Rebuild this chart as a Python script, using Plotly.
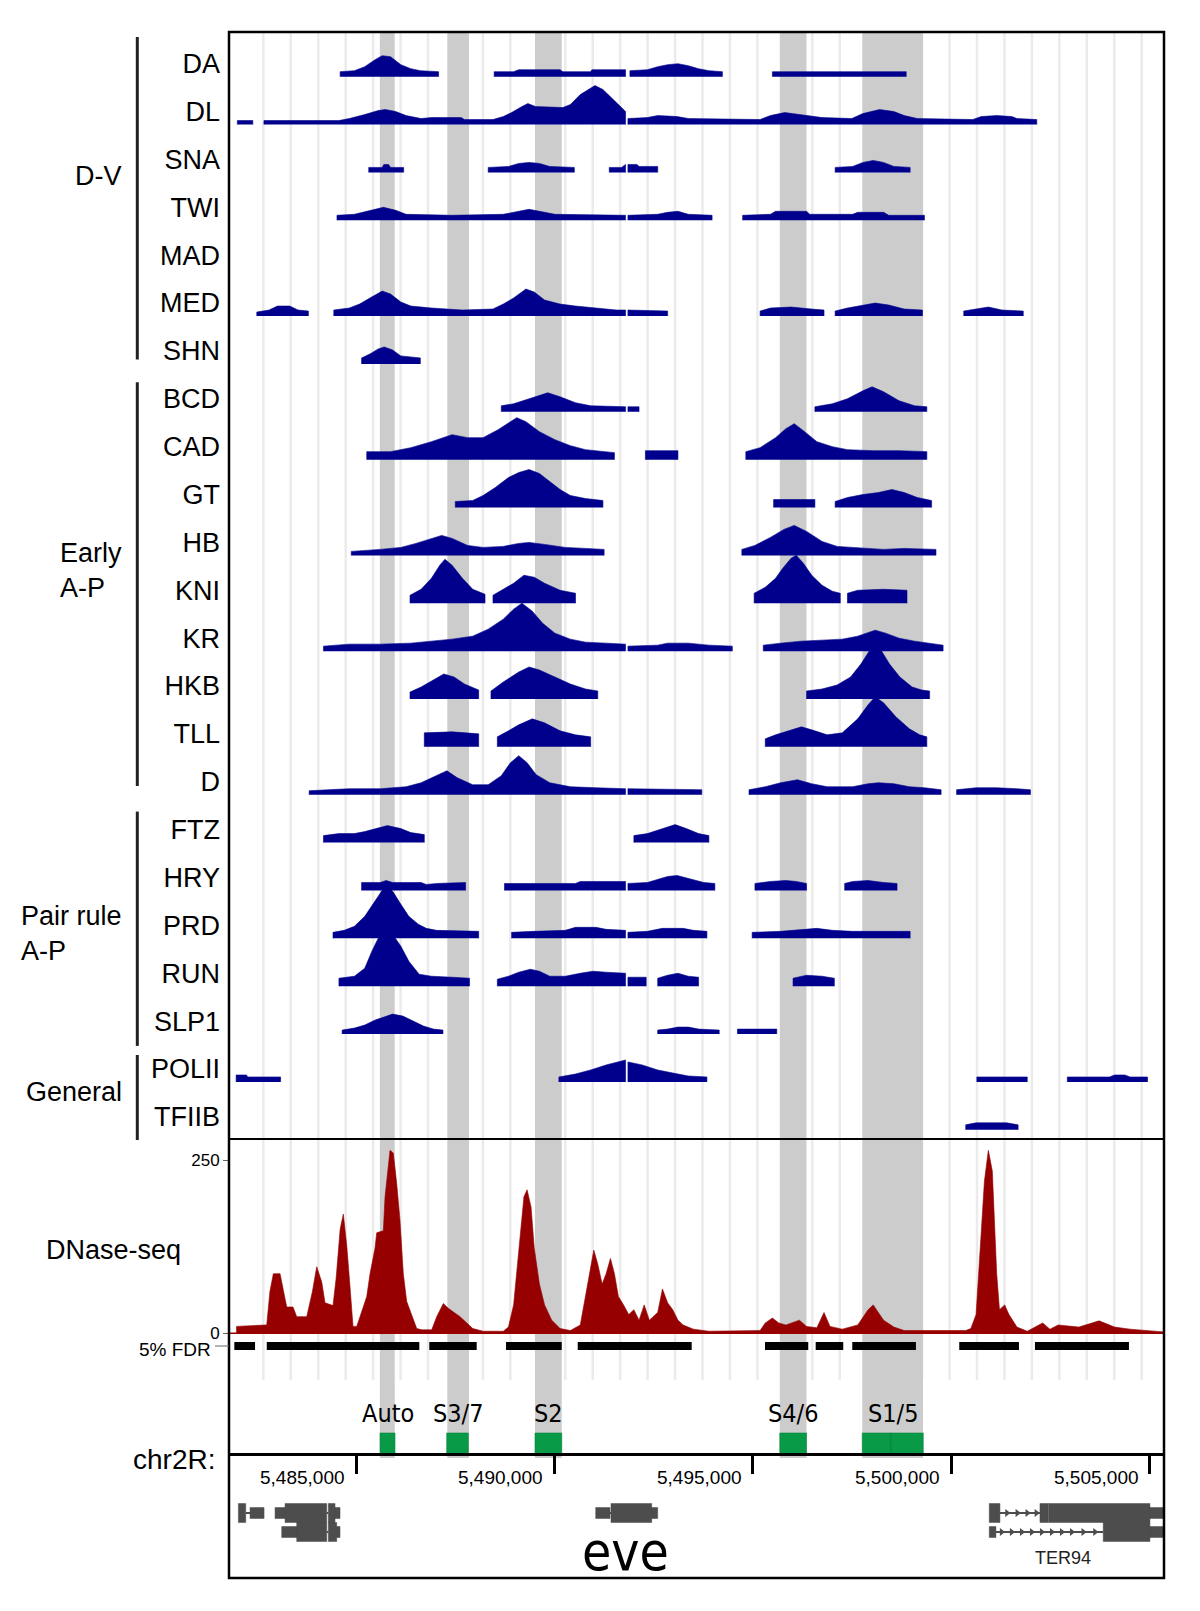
import plotly.graph_objects as go

# ------------------------------------------------------------------ data
X_RANGE = [5481800, 5505355]
AXIS_TICKS = [5485000, 5490000, 5495000, 5500000, 5505000]
AXIS_TICK_TEXT = ["5,485,000", "5,490,000", "5,495,000", "5,500,000", "5,505,000"]

# ChIP tracks: list of segments, each segment = [(position bp, signal), ...]
DA = [
    [(5484600, 5), (5484960, 6), (5485220, 10), (5485480, 17), (5485660, 21), (5485870, 20), (5486130, 12), (5486380, 8), (5486620, 6), (5487080, 5)],
    [(5488480, 5), (5488970, 5), (5489100, 7), (5490140, 7), (5490210, 5), (5490910, 5), (5490940, 7), (5491790, 7)],
    [(5491900, 6), (5492340, 7), (5492600, 10), (5492850, 12), (5493110, 13), (5493370, 11), (5493630, 8), (5493890, 6), (5494150, 5), (5494230, 5)],
    [(5495490, 5), (5498860, 5)],
]
DL = [
    [(5482010, 4), (5482400, 4)],
    [(5482680, 4), (5484570, 4), (5484830, 6), (5485220, 10), (5485560, 14), (5485740, 15), (5486000, 13), (5486260, 9), (5486640, 6), (5486900, 7), (5487650, 7), (5487730, 5), (5488450, 5), (5488710, 8), (5488920, 12), (5489180, 18), (5489330, 21), (5489520, 18), (5490210, 17), (5490400, 20), (5490650, 30), (5491020, 39), (5491220, 35), (5491560, 22), (5491790, 13)],
    [(5491850, 6), (5492340, 7), (5492600, 9), (5493090, 8), (5493370, 6), (5495180, 5), (5495440, 9), (5495800, 12), (5496220, 10), (5496740, 7), (5497490, 6), (5497770, 11), (5498190, 15), (5498550, 13), (5498810, 9), (5499140, 6), (5500540, 5), (5500750, 8), (5501140, 9), (5501520, 8), (5501650, 6), (5502150, 5)],
]
SNA = [
    [(5485320, 5), (5485660, 5), (5485700, 8), (5485820, 8), (5485870, 5), (5486200, 5)],
    [(5488330, 5), (5488840, 6), (5489100, 9), (5489360, 10), (5489620, 9), (5489880, 6), (5490500, 5)],
    [(5491380, 5), (5491690, 5), (5491770, 8), (5491790, 8)],
    [(5491850, 8), (5492080, 8), (5492130, 6), (5492600, 6)],
    [(5497070, 5), (5497510, 6), (5497770, 10), (5498030, 12), (5498290, 10), (5498550, 6), (5498960, 5)],
]
TWI = [
    [(5484520, 5), (5484960, 6), (5485350, 10), (5485690, 13), (5486000, 10), (5486260, 6), (5487420, 5), (5488710, 6), (5489100, 9), (5489360, 11), (5489620, 9), (5490010, 6), (5491790, 5)],
    [(5491850, 5), (5492600, 6), (5492850, 8), (5493110, 9), (5493370, 6), (5493970, 5)],
    [(5494740, 5), (5495440, 6), (5495570, 9), (5496350, 9), (5496430, 6), (5497510, 6), (5497640, 8), (5498290, 8), (5498420, 5), (5499320, 5)],
]
MAD = []
MED = [
    [(5482500, 4), (5482810, 6), (5483020, 10), (5483330, 10), (5483540, 6), (5483800, 5)],
    [(5484440, 6), (5484830, 8), (5485090, 12), (5485350, 18), (5485660, 25), (5485870, 22), (5486130, 14), (5486380, 10), (5486900, 8), (5487680, 6), (5488450, 7), (5488710, 12), (5488970, 18), (5489280, 27), (5489490, 24), (5489750, 16), (5490140, 12), (5490530, 10), (5491040, 8), (5491560, 6), (5491790, 6)],
    [(5491850, 6), (5492850, 5)],
    [(5495180, 5), (5495440, 8), (5495960, 9), (5496480, 7), (5496790, 6)],
    [(5497070, 5), (5497380, 8), (5497770, 11), (5498080, 13), (5498420, 11), (5498810, 7), (5499270, 6)],
    [(5500310, 5), (5500620, 7), (5500930, 9), (5501270, 6), (5501810, 5)],
]
SHN = [
    [(5485140, 6), (5485350, 10), (5485560, 15), (5485710, 17), (5485920, 14), (5486130, 8), (5486380, 7), (5486620, 6)],
]
BCD = [
    [(5488660, 6), (5488970, 8), (5489360, 13), (5489620, 17), (5489830, 19), (5490140, 15), (5490530, 9), (5490910, 6), (5491790, 5)],
    [(5491850, 5), (5492130, 5)],
    [(5496560, 5), (5497000, 8), (5497380, 13), (5497770, 21), (5498000, 25), (5498290, 20), (5498680, 11), (5499070, 6), (5499380, 5)],
]
CAD = [
    [(5485270, 8), (5485870, 8), (5486380, 12), (5486900, 18), (5487420, 25), (5487810, 22), (5488200, 22), (5488580, 30), (5488840, 37), (5489050, 42), (5489280, 38), (5489620, 28), (5490010, 20), (5490400, 14), (5490780, 10), (5491170, 8), (5491510, 7)],
    [(5492290, 9), (5493110, 9)],
    [(5494820, 8), (5495180, 12), (5495570, 22), (5495830, 31), (5496040, 36), (5496270, 29), (5496610, 18), (5497000, 13), (5497380, 10), (5498030, 9), (5498680, 9), (5499380, 8)],
]
GT = [
    [(5487500, 6), (5487940, 7), (5488200, 12), (5488510, 20), (5488840, 30), (5489100, 35), (5489360, 38), (5489620, 34), (5489880, 26), (5490140, 18), (5490400, 12), (5490780, 9), (5491220, 7)],
    [(5495520, 8), (5496560, 8)],
    [(5497070, 6), (5497380, 10), (5497770, 13), (5498160, 15), (5498500, 18), (5498810, 15), (5499140, 10), (5499500, 7)],
]
HB = [
    [(5484880, 4), (5485610, 6), (5486130, 8), (5486510, 12), (5486900, 17), (5487160, 20), (5487420, 17), (5487810, 10), (5488200, 8), (5488710, 9), (5489100, 12), (5489360, 13), (5489750, 11), (5490270, 8), (5490780, 7), (5491250, 6)],
    [(5494720, 6), (5495050, 10), (5495440, 18), (5495780, 26), (5496040, 30), (5496350, 24), (5496740, 14), (5497120, 9), (5497770, 7), (5498290, 6), (5498810, 7), (5499610, 6)],
]
KNI = [
    [(5486360, 8), (5486640, 14), (5486900, 25), (5487110, 38), (5487240, 44), (5487420, 38), (5487680, 25), (5487940, 14), (5488250, 9)],
    [(5488450, 8), (5488710, 14), (5488970, 20), (5489230, 28), (5489490, 26), (5489750, 20), (5490140, 13), (5490530, 10)],
    [(5495030, 10), (5495310, 16), (5495570, 25), (5495750, 35), (5495960, 45), (5496090, 48), (5496270, 40), (5496480, 28), (5496740, 18), (5497000, 12), (5497200, 10)],
    [(5497380, 10), (5497640, 13), (5498290, 14), (5498880, 13)],
]
KR = [
    [(5484180, 5), (5484830, 7), (5485610, 7), (5486380, 8), (5486900, 10), (5487420, 12), (5487940, 15), (5488330, 22), (5488710, 32), (5488970, 42), (5489180, 48), (5489440, 40), (5489700, 28), (5490010, 18), (5490400, 12), (5490780, 9), (5491300, 8), (5491790, 7)],
    [(5491850, 5), (5492600, 6), (5492850, 8), (5493370, 8), (5493890, 6), (5494480, 5)],
    [(5495260, 6), (5495700, 8), (5496220, 10), (5496740, 11), (5497250, 12), (5497640, 15), (5497900, 19), (5498080, 21), (5498340, 18), (5498680, 13), (5499070, 10), (5499450, 8), (5499790, 6)],
]
HKB = [
    [(5486360, 7), (5486640, 12), (5486900, 18), (5487210, 25), (5487470, 22), (5487730, 15), (5488090, 9)],
    [(5488400, 8), (5488710, 17), (5489100, 27), (5489360, 32), (5489620, 29), (5490010, 22), (5490400, 15), (5490780, 10), (5491090, 8)],
    [(5496350, 8), (5496740, 10), (5497120, 14), (5497460, 22), (5497720, 35), (5497930, 48), (5498080, 58), (5498240, 48), (5498440, 35), (5498700, 22), (5499010, 12), (5499250, 9), (5499450, 8)],
]
TLL = [
    [(5486720, 14), (5487420, 15), (5488090, 13)],
    [(5488560, 10), (5488840, 16), (5489100, 22), (5489440, 28), (5489750, 24), (5490140, 16), (5490530, 12), (5490910, 10)],
    [(5495310, 8), (5495570, 12), (5495960, 17), (5496220, 20), (5496480, 17), (5496870, 12), (5497250, 14), (5497640, 28), (5497900, 42), (5498080, 50), (5498290, 44), (5498600, 30), (5498940, 18), (5499200, 12), (5499380, 10)],
]
D = [
    [(5483820, 4), (5484310, 5), (5484830, 6), (5485610, 6), (5486260, 8), (5486640, 12), (5487030, 19), (5487290, 24), (5487550, 17), (5487940, 10), (5488330, 10), (5488660, 19), (5488890, 32), (5489100, 39), (5489310, 32), (5489540, 20), (5489880, 12), (5490400, 8), (5491040, 7), (5491790, 6)],
    [(5491850, 6), (5493710, 5)],
    [(5494900, 5), (5495310, 8), (5495700, 12), (5496120, 15), (5496480, 11), (5496870, 8), (5497510, 8), (5497900, 11), (5498160, 12), (5498550, 11), (5498940, 8), (5499320, 7), (5499740, 5)],
    [(5500130, 5), (5500620, 7), (5501140, 7), (5501650, 6), (5501990, 5)],
]
FTZ = [
    [(5484180, 7), (5484570, 9), (5484960, 9), (5485220, 11), (5485480, 14), (5485790, 17), (5486130, 14), (5486380, 10), (5486720, 8)],
    [(5492000, 7), (5492340, 9), (5492720, 14), (5493040, 18), (5493320, 14), (5493630, 9), (5493890, 7)],
]
HRY = [
    [(5485140, 8), (5485610, 8), (5485760, 10), (5485920, 8), (5486640, 8), (5486770, 6), (5487030, 7), (5487760, 8)],
    [(5488740, 7), (5490530, 7), (5490650, 9), (5491790, 9)],
    [(5491850, 7), (5492340, 8), (5492600, 11), (5492850, 14), (5493090, 15), (5493370, 12), (5493760, 8), (5494040, 7)],
    [(5495050, 7), (5495440, 9), (5495830, 10), (5496090, 9), (5496350, 7)],
    [(5497310, 7), (5497510, 9), (5497900, 10), (5498290, 8), (5498630, 7)],
]
PRD = [
    [(5484420, 6), (5484700, 8), (5484960, 12), (5485220, 22), (5485480, 38), (5485660, 48), (5485790, 52), (5485940, 46), (5486130, 34), (5486330, 22), (5486570, 14), (5486770, 10), (5487030, 8), (5488090, 7)],
    [(5488920, 6), (5489490, 7), (5490270, 8), (5490530, 11), (5491040, 11), (5491300, 9), (5491790, 8)],
    [(5491850, 6), (5492340, 7), (5492720, 10), (5493240, 10), (5493500, 8), (5493840, 7)],
    [(5494980, 6), (5495700, 7), (5496220, 9), (5496610, 10), (5497000, 8), (5497510, 7), (5498960, 7)],
]
RUN = [
    [(5484570, 8), (5484960, 10), (5485220, 18), (5485400, 35), (5485560, 48), (5485710, 55), (5485920, 52), (5486130, 40), (5486330, 25), (5486590, 12), (5486900, 10), (5487420, 9), (5487860, 8)],
    [(5488560, 7), (5488840, 10), (5489100, 14), (5489390, 17), (5489620, 15), (5489880, 10), (5490270, 10), (5490650, 13), (5490970, 15), (5491300, 14), (5491790, 13)],
    [(5491850, 9), (5492310, 9)],
    [(5492600, 8), (5492850, 11), (5493110, 13), (5493370, 10), (5493630, 9)],
    [(5496010, 8), (5496350, 11), (5496740, 10), (5497050, 8)],
]
SLP1 = [
    [(5484650, 4), (5484960, 6), (5485220, 9), (5485480, 14), (5485740, 18), (5485920, 20), (5486180, 18), (5486440, 13), (5486700, 8), (5486950, 5), (5487190, 4)],
    [(5492600, 4), (5492850, 5), (5493110, 7), (5493370, 7), (5493630, 5), (5494150, 4)],
    [(5494610, 5), (5495600, 5)],
]
POLII = [
    [(5481980, 7), (5482240, 7), (5482270, 5), (5483100, 5)],
    [(5490110, 5), (5490530, 8), (5490910, 12), (5491300, 17), (5491560, 20), (5491770, 22), (5491790, 22)],
    [(5491850, 20), (5492210, 17), (5492600, 12), (5492980, 9), (5493370, 6), (5493840, 5)],
    [(5500640, 5), (5501910, 5)],
    [(5502920, 5), (5503980, 5), (5504110, 7), (5504370, 7), (5504500, 5), (5504940, 5)],
]
TFIIB = [
    [(5500360, 5), (5500620, 7), (5501390, 7), (5501680, 5)],
]

TRACK_NAMES = ["DA", "DL", "SNA", "TWI", "MAD", "MED", "SHN",
               "BCD", "CAD", "GT", "HB", "KNI", "KR", "HKB", "TLL", "D",
               "FTZ", "HRY", "PRD", "RUN", "SLP1", "POLII", "TFIIB"]
TRACKS = [DA, DL, SNA, TWI, MAD, MED, SHN, BCD, CAD, GT, HB, KNI, KR, HKB,
          TLL, D, FTZ, HRY, PRD, RUN, SLP1, POLII, TFIIB]

GROUP_LABELS = ["D-V", "Early<br>A-P", "Pair rule<br>A-P", "General"]

# DNase-seq signal
DNASE_POS = [5481990, 5482700, 5482750, 5482830, 5482917, 5483086, 5483169, 5483254, 5483413, 5483506,
             5483758, 5483900, 5484010, 5484136, 5484219, 5484420, 5484500, 5484600, 5484680, 5484766,
             5484849, 5484924, 5485018, 5485101, 5485270, 5485353, 5485479, 5485521, 5485688, 5485731,
             5485856, 5485940, 5486025, 5486108, 5486191, 5486277, 5486403, 5486529, 5486655, 5486907,
             5487033, 5487199, 5487325, 5487620, 5487940, 5488200, 5488710, 5488840, 5488970, 5489100,
             5489230, 5489310, 5489410, 5489490, 5489620, 5489750, 5489930, 5490140, 5490400, 5490650,
             5490840, 5490990, 5491090, 5491200, 5491300, 5491410, 5491510, 5491610, 5491740, 5491870,
             5492000, 5492130, 5492260, 5492390, 5492600, 5492720, 5492850, 5492980, 5493110, 5493240,
             5493500, 5493890, 5495180, 5495310, 5495490, 5495650, 5495830, 5496170, 5496350, 5496610,
             5496790, 5496940, 5497250, 5497640, 5497900, 5498030, 5498290, 5498550, 5498810, 5500360,
             5500490, 5500620, 5500750, 5500830, 5500930, 5501030, 5501140, 5501210, 5501340, 5501450,
             5501650, 5501910, 5502300, 5502480, 5502690, 5503210, 5503720, 5504110, 5504500, 5505020,
             5505355]
DNASE_VAL = [10, 12, 12, 60, 86, 86, 60, 38, 38, 24,
             24, 60, 96, 74, 44, 40, 80, 150, 172, 127,
             67, 10, 10, 24, 53, 86, 123, 145, 148, 197,
             264, 260, 216, 163, 86, 46, 26, 7, 5, 5,
             24, 43, 36, 24, 7, 3, 3, 9, 41, 116,
             197, 207, 182, 123, 71, 41, 19, 7, 4, 12,
             71, 120, 100, 71, 86, 108, 86, 53, 41, 27,
             34, 19, 41, 19, 30, 64, 44, 34, 19, 12,
             6, 3, 4, 15, 22, 15, 12, 19, 10, 8,
             30, 10, 6, 12, 34, 41, 19, 9, 4, 4,
             7, 27, 145, 219, 264, 234, 86, 34, 41, 27,
             9, 3, 15, 6, 12, 9, 18, 9, 6, 3,
             2]
DNASE_TICKS = [250, 0]
DNASE_TICK_TEXT = ["250", "0"]
FDR_LEVEL = -18.3
FDR_LABEL = "5% FDR"

FDR_START = [5481934, 5482751, 5486846, 5488779, 5490585, 5495303, 5496580, 5497502, 5500197, 5502104]
FDR_END = [5482456, 5486595, 5488040, 5490182, 5493456, 5496393, 5497275, 5499106, 5501701, 5504472]

# enhancers (S1/5 is made of two adjacent fragments)
ENH_NAMES = ["Auto", "S3/7", "S2", "S4/6", "S1/5"]
ENH_START = [5485605, 5487285, 5489509, 5495676, 5497754]
ENH_END = [5485982, 5487829, 5490182, 5496348, 5499290]
ENH_FRAG_START = [5485605, 5487285, 5489509, 5495676, 5497754, 5498469]
ENH_FRAG_END = [5485982, 5487829, 5490182, 5496348, 5498469, 5499290]

BAND_START = [5485600, 5487300, 5489509, 5495676, 5497754]
BAND_END = [5485975, 5487846, 5490182, 5496348, 5499283]

# genes: exon blocks
EXON_START = [5482036, 5482330, 5482960, 5483212, 5484302, 5484471, 5483128, 5483506, 5484302, 5484514,
              5491038, 5491423, 5492449, 5500953, 5502230, 5502450, 5505001, 5500953, 5503824, 5505001]
EXON_END = [5482222, 5482683, 5483212, 5484262, 5484471, 5484597, 5483506, 5484262, 5484514, 5484597,
            5491398, 5492449, 5492600, 5501222, 5502439, 5505001, 5505429, 5501121, 5505001, 5505429]
EXON_LANE = [0, 0, 0, 0, 0, 0, 1, 1, 1, 1,
             0, 0, 0, 0, 0, 0, 0, 1, 1, 1]
EXON_THICK = [1, 0, 0, 1, 1, 0, 0, 1, 1, 0,
              0, 1, 0, 1, 1, 1, 0, 0, 1, 0]
INTRON_START = [5482222, 5484262, 5484262, 5491398, 5501222, 5501121]
INTRON_END = [5482330, 5484302, 5484302, 5491423, 5502230, 5503824]
INTRON_LANE = [0, 0, 1, 0, 0, 1]
ARROW_POS = [5501400, 5501660, 5501910, 5502140,
             5501265, 5501517, 5501769, 5502021, 5502273, 5502525, 5502777, 5503029, 5503321, 5503616]
ARROW_LANE = [0, 0, 0, 0,
              1, 1, 1, 1, 1, 1, 1, 1, 1, 1]
GENE_NAMES = ["eve", "TER94"]
GENE_LABEL_POS = [5491801, 5502809]

# ------------------------------------------------------------------ style / layout helpers
BODY = 8                              # default page margin around the plot div
BOX_L, BOX_T, BOX_W, BOX_H = 229, 32, 935, 1546   # frame in page pixels
W, H = 1200 - 2 * BODY, 1611 - 2 * BODY
ML, MT = BOX_L - BODY, BOX_T - BODY
MR, MB = W - ML - BOX_W, H - MT - BOX_H


def PX(px):
    return (px - BOX_L) / BOX_W


def PY(py):
    return (BOX_T + BOX_H - py) / BOX_H


NAVY = "#00008C"
RED = "#960000"
GREEN = "#089A47"
GENE = "#4D4D4D"
SANS = "Liberation Sans, Arial, Helvetica, sans-serif"
NARROW = "Liberation Sans Narrow, Arial Narrow, DejaVu Sans Condensed, sans-serif"

ROW_PX = 47.87
BASE_OFF = 13 / ROW_PX
Y_TOP, Y_BOT = 0.662, -22.463
Y2_RANGE = [-38.5, 280.3]

fig = go.Figure()

# ---- TF tracks
for i, segs in enumerate(TRACKS):
    if not segs:
        continue
    base = -i - BASE_OFF
    xs, ys = [], []
    for seg in segs:
        xs += [seg[0][0]] + [p[0] for p in seg] + [seg[-1][0], None]
        ys += [base] + [base + p[1] / ROW_PX for p in seg] + [base, None]
    fig.add_trace(go.Scatter(x=xs, y=ys, mode="lines", fill="toself", fillcolor=NAVY,
                             line=dict(color=NAVY, width=0.6), hoverinfo="skip",
                             xaxis="x", yaxis="y"))

# ---- DNase
fig.add_trace(go.Scatter(x=[DNASE_POS[0]] + DNASE_POS + [DNASE_POS[-1]],
                         y=[0] + DNASE_VAL + [0], mode="lines", fill="toself",
                         fillcolor=RED, line=dict(color=RED, width=0.6),
                         hoverinfo="skip", xaxis="x", yaxis="y2"))
fig.add_trace(go.Scatter(x=X_RANGE, y=[0, 0], mode="lines", line=dict(color=RED, width=1.5),
                         hoverinfo="skip", xaxis="x", yaxis="y2"))
fx, fy = [], []
for s, e in zip(FDR_START, FDR_END):
    fx += [s, e, None]
    fy += [FDR_LEVEL, FDR_LEVEL, None]
fig.add_trace(go.Scatter(x=fx, y=fy, mode="lines", line=dict(color="black", width=8),
                         hoverinfo="skip", xaxis="x", yaxis="y2"))

# ---- enhancers
ex, ey = [], []
for s, e in zip(ENH_FRAG_START, ENH_FRAG_END):
    ex += [s, e, e, s, s, None]
    ey += [1, 1, 23, 23, 1, None]
fig.add_trace(go.Scatter(x=ex, y=ey, mode="lines", fill="toself", fillcolor=GREEN,
                         line=dict(color="#07833C", width=0.6), hoverinfo="skip",
                         xaxis="x", yaxis="y3"))

# ---- genes
LANE_Y = [65, 46]
HALF = {1: 9.5, 0: 5.5}
gx, gy = [], []
for s, e, l, t in zip(EXON_START, EXON_END, EXON_LANE, EXON_THICK):
    c, h = LANE_Y[l], HALF[t]
    gx += [s, e, e, s, s, None]
    gy += [c - h, c - h, c + h, c + h, c - h, None]
fig.add_trace(go.Scatter(x=gx, y=gy, mode="lines", fill="toself", fillcolor=GENE,
                         line=dict(color=GENE, width=0.5), hoverinfo="skip",
                         xaxis="x", yaxis="y4"))
ix, iy = [], []
for s, e, l in zip(INTRON_START, INTRON_END, INTRON_LANE):
    ix += [s, e, None]
    iy += [LANE_Y[l], LANE_Y[l], None]
fig.add_trace(go.Scatter(x=ix, y=iy, mode="lines", line=dict(color=GENE, width=2),
                         hoverinfo="skip", xaxis="x", yaxis="y4"))
fig.add_trace(go.Scatter(x=ARROW_POS, y=[LANE_Y[l] for l in ARROW_LANE], mode="markers",
                         marker=dict(symbol="triangle-right", size=7, color=GENE),
                         hoverinfo="skip", xaxis="x", yaxis="y4"))

# ------------------------------------------------------------------ shapes
shapes = []
g = 5482665
while g < X_RANGE[1]:
    shapes.append(dict(type="line", xref="x", yref="paper", x0=g, x1=g, y0=PY(1380), y1=1,
                       line=dict(color="#EBEBEB", width=2.5), layer="below"))
    g += 691.5
for s, e in zip(BAND_START, BAND_END):
    shapes.append(dict(type="rect", xref="x", yref="paper", x0=s, x1=e, y0=PY(1458), y1=1,
                       fillcolor="#CCCCCC", line=dict(width=0), layer="below"))
shapes.append(dict(type="rect", xref="paper", yref="paper", x0=0, x1=1, y0=0, y1=1,
                   line=dict(color="black", width=2.5)))
shapes.append(dict(type="line", xref="paper", yref="paper", x0=0, x1=1, y0=PY(1139), y1=PY(1139),
                   line=dict(color="black", width=2)))
BRACKETS = [(37, 359.6), (382.2, 786), (811.6, 1045.9), (1055, 1140)]
for a, b in BRACKETS:
    shapes.append(dict(type="line", xref="paper", yref="paper", x0=PX(137.3), x1=PX(137.3),
                       y0=PY(a), y1=PY(b), line=dict(color="#222222", width=3)))
# longer tick for the FDR row
shapes.append(dict(type="line", xref="paper", yref="y2", x0=PX(215), x1=PX(229),
                   y0=FDR_LEVEL, y1=FDR_LEVEL, line=dict(color="#666666", width=1)))

# ------------------------------------------------------------------ annotations
ann = []
GROUP_Y = [175.7, 570.2, 933.9, 1092]
for lab, yy in zip(GROUP_LABELS, GROUP_Y):
    ann.append(dict(text=lab, xref="paper", yref="paper", x=PX(124), y=PY(yy), xanchor="right",
                    yanchor="middle", align="left", showarrow=False,
                    font=dict(family=SANS, size=27, color="black")))
ann.append(dict(text="DNase-seq", xref="paper", yref="paper", x=PX(183), y=PY(1250),
                xanchor="right", yanchor="middle", showarrow=False,
                font=dict(family=SANS, size=27, color="black")))
ann.append(dict(text="chr2R:", xref="paper", yref="paper", x=PX(217), y=PY(1459),
                xanchor="right", yanchor="middle", showarrow=False,
                font=dict(family=SANS, size=28, color="black")))
ann.append(dict(text=FDR_LABEL, xref="paper", yref="y2", x=PX(213), y=FDR_LEVEL,
                xanchor="right", yanchor="middle", yshift=-3, showarrow=False,
                font=dict(family=SANS, size=19, color="black")))
for t, txt in zip(AXIS_TICKS, AXIS_TICK_TEXT):
    ann.append(dict(text=txt, xref="x", yref="paper", x=t, y=PY(1477), xanchor="right",
                    yanchor="middle", xshift=-9, showarrow=False,
                    font=dict(family=SANS, size=19, color="black")))
for n, s, e in zip(ENH_NAMES, ENH_START, ENH_END):
    ann.append(dict(text=n, xref="x", yref="y3", x=(s + e) / 2, y=43, xanchor="center",
                    yanchor="middle", showarrow=False,
                    font=dict(family=NARROW, size=25, color="black")))
ann.append(dict(text=GENE_NAMES[0], xref="x", yref="y4", x=GENE_LABEL_POS[0], y=27,
                xanchor="center", yanchor="middle", showarrow=False,
                font=dict(family=NARROW, size=53, color="black")))
ann.append(dict(text=GENE_NAMES[1], xref="x", yref="y4", x=GENE_LABEL_POS[1], y=20,
                xanchor="center", yanchor="middle", showarrow=False,
                font=dict(family=SANS, size=18, color="#222222")))

# ------------------------------------------------------------------ layout
fig.update_layout(
    width=W, height=H, margin=dict(l=ML, r=MR, t=MT, b=MB),
    paper_bgcolor="white", plot_bgcolor="rgba(0,0,0,0)", showlegend=False,
    shapes=shapes, annotations=ann,
    xaxis=dict(domain=[0, 1], range=X_RANGE, anchor="y4", side="top", showline=True,
               linecolor="black", linewidth=3, ticks="inside", ticklen=18, tickwidth=3,
               tickcolor="black", tickvals=AXIS_TICKS, showticklabels=False,
               showgrid=False, zeroline=False),
    yaxis=dict(domain=[PY(1139), 1], range=[Y_BOT, Y_TOP], anchor="x",
               tickvals=[-i for i in range(len(TRACK_NAMES))], ticktext=TRACK_NAMES,
               ticks="", ticklabelstandoff=8, showgrid=False, zeroline=False, showline=False,
               tickfont=dict(family=SANS, size=27, color="black")),
    yaxis2=dict(domain=[PY(1360), PY(1139)], range=Y2_RANGE, anchor="x",
                tickvals=DNASE_TICKS, ticktext=DNASE_TICK_TEXT,
                ticks="outside", ticklen=5, tickwidth=1, tickcolor="#666666",
                showgrid=False, zeroline=False, showline=False,
                tickfont=dict(family=SANS, size=17, color="black")),
    yaxis3=dict(domain=[PY(1456), PY(1360)], range=[0, 96], anchor="x", visible=False),
    yaxis4=dict(domain=[0, PY(1456)], range=[0, 122], anchor="x", visible=False),
)

fig.write_html("out.html")
